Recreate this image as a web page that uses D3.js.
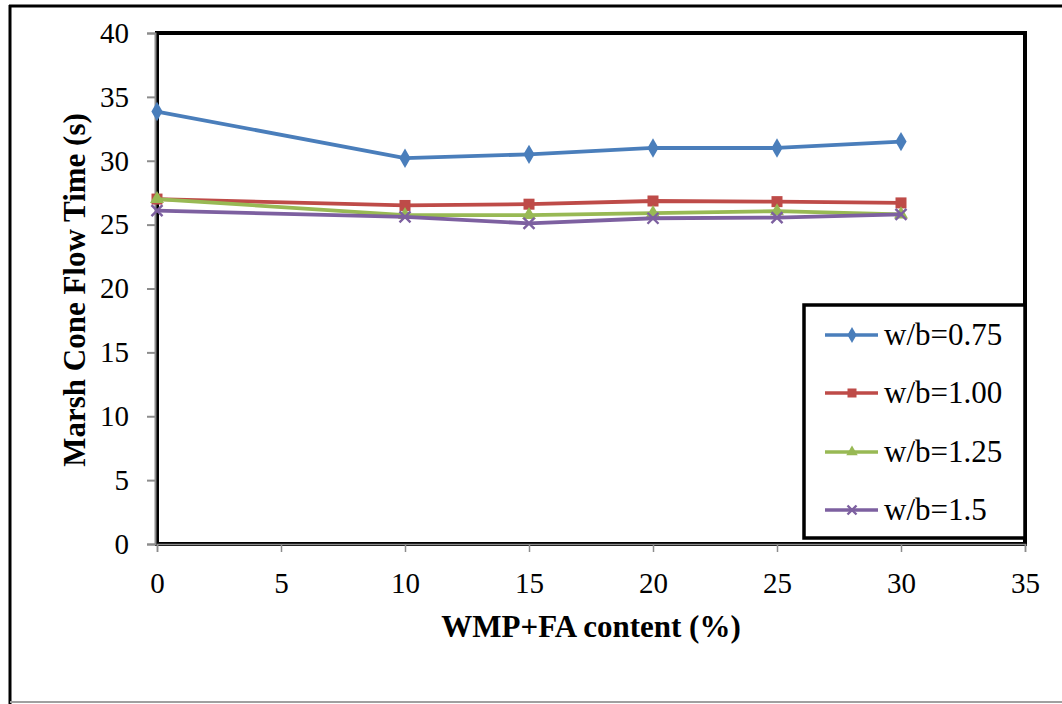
<!DOCTYPE html>
<html>
<head>
<meta charset="utf-8">
<script src="https://cdn.jsdelivr.net/npm/d3@7"></script>
<style>
  html, body { margin: 0; padding: 0; background: #fff; }
  svg { display: block; }
  svg text { font-family: "Liberation Serif", "Times New Roman", Times, Tinos, "DejaVu Serif", serif; fill: #000; }
</style>
</head>
<body>
<svg id="chart" width="1062" height="704"></svg>
<script>
// Marsh cone flow time versus WMP+FA replacement level
const contents = [0, 10, 15, 20, 25, 30];
const seriesNames = ["w/b=0.75", "w/b=1.00", "w/b=1.25", "w/b=1.5"];
const wb075 = [33.85, 30.2, 30.5, 31.0, 31.0, 31.5];
const wb100 = [27.0, 26.5, 26.6, 26.85, 26.8, 26.7];
const wb125 = [27.0, 25.75, 25.75, 25.9, 26.05, 25.8];
const wb150 = [26.1, 25.6, 25.1, 25.5, 25.55, 25.8];
const xTicks = [0, 5, 10, 15, 20, 25, 30, 35];
const yTicks = [0, 5, 10, 15, 20, 25, 30, 35, 40];

const seriesValues = [wb075, wb100, wb125, wb150];
const colors = ["#4a7ebb", "#be4b48", "#98b954", "#7d60a0"];
const markers = ["diamond", "square", "triangle", "cross"];
const serif = "'Liberation Serif', 'Times New Roman', Times, Tinos, 'DejaVu Serif', serif";

const svg = d3.select("#chart");

// outer frame
svg.append("line").attr("x1", 10).attr("x2", 10).attr("y1", 5).attr("y2", 704)
  .attr("stroke", "#000").attr("stroke-width", 3);
svg.append("line").attr("x1", 9).attr("x2", 1062).attr("y1", 6).attr("y2", 6)
  .attr("stroke", "#000").attr("stroke-width", 3);
svg.append("line").attr("x1", 10).attr("x2", 1062).attr("y1", 702).attr("y2", 702)
  .attr("stroke", "#a0a0a0").attr("stroke-width", 2);

const plotL = 157, plotR = 1025, plotT = 33, plotB = 544;
const x = d3.scaleLinear().domain([0, 35]).range([plotL, plotR]);
const y = d3.scaleLinear().domain([0, 40]).range([plotB, plotT]);

// plot area border
svg.append("rect").attr("x", plotL).attr("y", plotT)
  .attr("width", plotR - plotL).attr("height", plotB - plotT)
  .attr("fill", "#fff").attr("stroke", "#000").attr("stroke-width", 4);

// y axis
const yAxis = d3.axisLeft(y).tickValues(yTicks).tickSize(8).tickPadding(18)
  .tickFormat(d3.format("d"));
const gy = svg.append("g").attr("transform", `translate(${plotL - 2},0)`).call(yAxis)
  .attr("font-family", serif).attr("font-size", 29);
gy.select(".domain").attr("stroke", "#8c8c8c").attr("stroke-width", 2);
gy.selectAll(".tick line").attr("stroke", "#8c8c8c").attr("stroke-width", 2);
gy.selectAll(".tick text").attr("fill", "#000");

// x axis
const xAxis = d3.axisBottom(x).tickValues(xTicks).tickSize(8).tickPadding(20)
  .tickFormat(d3.format("d"));
const gx = svg.append("g").attr("transform", `translate(0,${plotB})`).call(xAxis)
  .attr("font-family", serif).attr("font-size", 29);
gx.select(".domain").attr("stroke", "#8c8c8c").attr("stroke-width", 1.5);
gx.selectAll(".tick line").attr("stroke", "#8c8c8c").attr("stroke-width", 1.5);
gx.selectAll(".tick text").attr("fill", "#000");

// axis titles
svg.append("text").attr("x", 591).attr("y", 637).attr("text-anchor", "middle")
  .attr("font-family", serif).attr("font-size", 31).attr("font-weight", "bold")
  .text("WMP+FA content (%)");
svg.append("text").attr("transform", "translate(85,290) rotate(-90)")
  .attr("text-anchor", "middle").attr("font-family", serif)
  .attr("font-size", 31).attr("font-weight", "bold")
  .text("Marsh Cone Flow Time (s)");

function drawMarker(g, type, cx, cy, color, s) {
  if (type === "diamond") {
    g.append("path").attr("d", d3.symbol(d3.symbolDiamond, s * s * 0.9)())
      .attr("transform", `translate(${cx},${cy})`).attr("fill", color);
  } else if (type === "square") {
    g.append("rect").attr("x", cx - s / 2).attr("y", cy - s / 2)
      .attr("width", s).attr("height", s).attr("fill", color);
  } else if (type === "triangle") {
    g.append("path").attr("d", d3.symbol(d3.symbolTriangle, s * s * 0.7)())
      .attr("transform", `translate(${cx},${cy})`).attr("fill", color);
  } else {
    const h = s / 2;
    g.append("path").attr("d", `M${cx - h},${cy - h}L${cx + h},${cy + h}M${cx - h},${cy + h}L${cx + h},${cy - h}`)
      .attr("stroke", color).attr("stroke-width", 2.4).attr("fill", "none");
  }
}

// series lines and markers
const line = d3.line().x((d, i) => x(contents[i])).y(d => y(d));
seriesValues.forEach((vals, k) => {
  const g = svg.append("g");
  g.append("path").datum(vals).attr("d", line)
    .attr("fill", "none").attr("stroke", colors[k]).attr("stroke-width", 3.8)
    .attr("stroke-linejoin", "round");
  vals.forEach((v, i) => drawMarker(g, markers[k], x(contents[i]), y(v), colors[k], 11));
});

// legend
const lg = svg.append("g");
lg.append("rect").attr("x", 804).attr("y", 305).attr("width", 221).attr("height", 233)
  .attr("fill", "#fff").attr("stroke", "#000").attr("stroke-width", 3.5);
const rowY = [335, 393, 452, 510];
seriesNames.forEach((name, k) => {
  lg.append("line").attr("x1", 825).attr("x2", 878).attr("y1", rowY[k]).attr("y2", rowY[k])
    .attr("stroke", colors[k]).attr("stroke-width", 3.5);
  drawMarker(lg, markers[k], 852, rowY[k], colors[k], 9);
  lg.append("text").attr("x", 884).attr("y", rowY[k] + 10)
    .attr("font-family", serif).attr("font-size", 31).text(name);
});
</script>
</body>
</html>
